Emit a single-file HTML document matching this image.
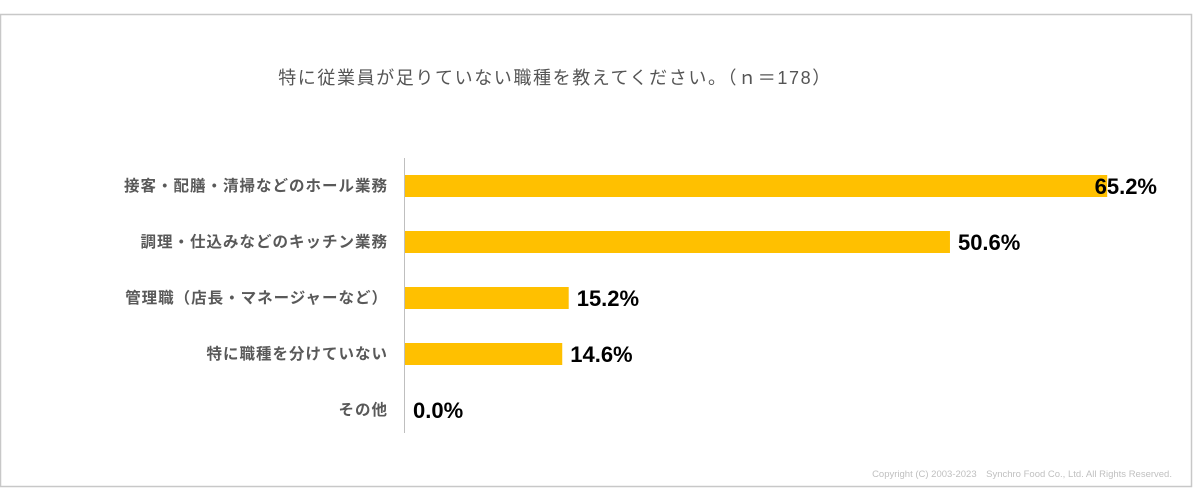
<!DOCTYPE html>
<html><head><meta charset="utf-8">
<style>
html,body{margin:0;padding:0;background:#fff;}
svg{display:block;font-family:"Liberation Sans","Noto Sans CJK JP",sans-serif;}
</style></head>
<body>
<svg id="chart" width="1200" height="500" viewBox="0 0 1200 500">
<rect x="0.5" y="14.5" width="1191" height="472" fill="#fff" stroke="#c8c8c8" stroke-width="1.5"/>
<text x="555" y="84" text-anchor="middle" font-size="18" letter-spacing="1.6" fill="#555">特に従業員が足りていない職種を教えてください。（ｎ＝178）</text>
<line x1="404.5" y1="158" x2="404.5" y2="433" stroke="#bfbfbf" stroke-width="1"/>
<g id="bars"></g>
<text x="1172" y="477" text-anchor="end" font-size="9.5" fill="#c0c0c0">Copyright (C) 2003-2023　Synchro Food Co., Ltd. All Rights Reserved.</text>
</svg>
<script>
const categories = ["接客・配膳・清掃などのホール業務","調理・仕込みなどのキッチン業務","管理職（店長・マネージャーなど）","特に職種を分けていない","その他"];
const values = [65.2, 50.6, 15.2, 14.6, 0.0];
const valueLabels = ["65.2%","50.6%","15.2%","14.6%","0.0%"];

const x0 = 405, pxPerUnit = 10.77, yTop = 186, step = 56, barH = 22, labelMaxX = 1157;
const xScale = v => x0 + v * pxPerUnit;
const yScale = i => yTop + i * step;
const NS = "http://www.w3.org/2000/svg";
const g = document.getElementById("bars");
categories.forEach((c, i) => {
  const cy = yScale(i);
  const cat = document.createElementNS(NS, "text");
  
  
  cat.setAttribute("x", 388); cat.setAttribute("y", cy + 5);
  cat.setAttribute("text-anchor", "end"); cat.setAttribute("font-size", "15.5");
  cat.setAttribute("letter-spacing", "1");
  cat.setAttribute("font-weight", "bold"); cat.setAttribute("fill", "#595959");
  cat.textContent = c; g.appendChild(cat);
  const w = xScale(values[i]) - x0;
  if (w > 0) {
    const r = document.createElementNS(NS, "rect");
    
    
    r.setAttribute("x", x0); r.setAttribute("y", cy - barH / 2);
    r.setAttribute("width", w); r.setAttribute("height", barH);
    r.setAttribute("fill", "#ffc000"); g.appendChild(r);
  }
  const t = document.createElementNS(NS, "text");
  
  
  t.setAttribute("y", cy + 8); t.setAttribute("font-size", "22");
  t.setAttribute("font-weight", "bold"); t.setAttribute("fill", "#000");
  t.textContent = valueLabels[i]; g.appendChild(t);
  const tw = t.getComputedTextLength();
  t.setAttribute("x", Math.min(xScale(values[i]) + 8, labelMaxX - tw));
});
</script>
</body></html>
